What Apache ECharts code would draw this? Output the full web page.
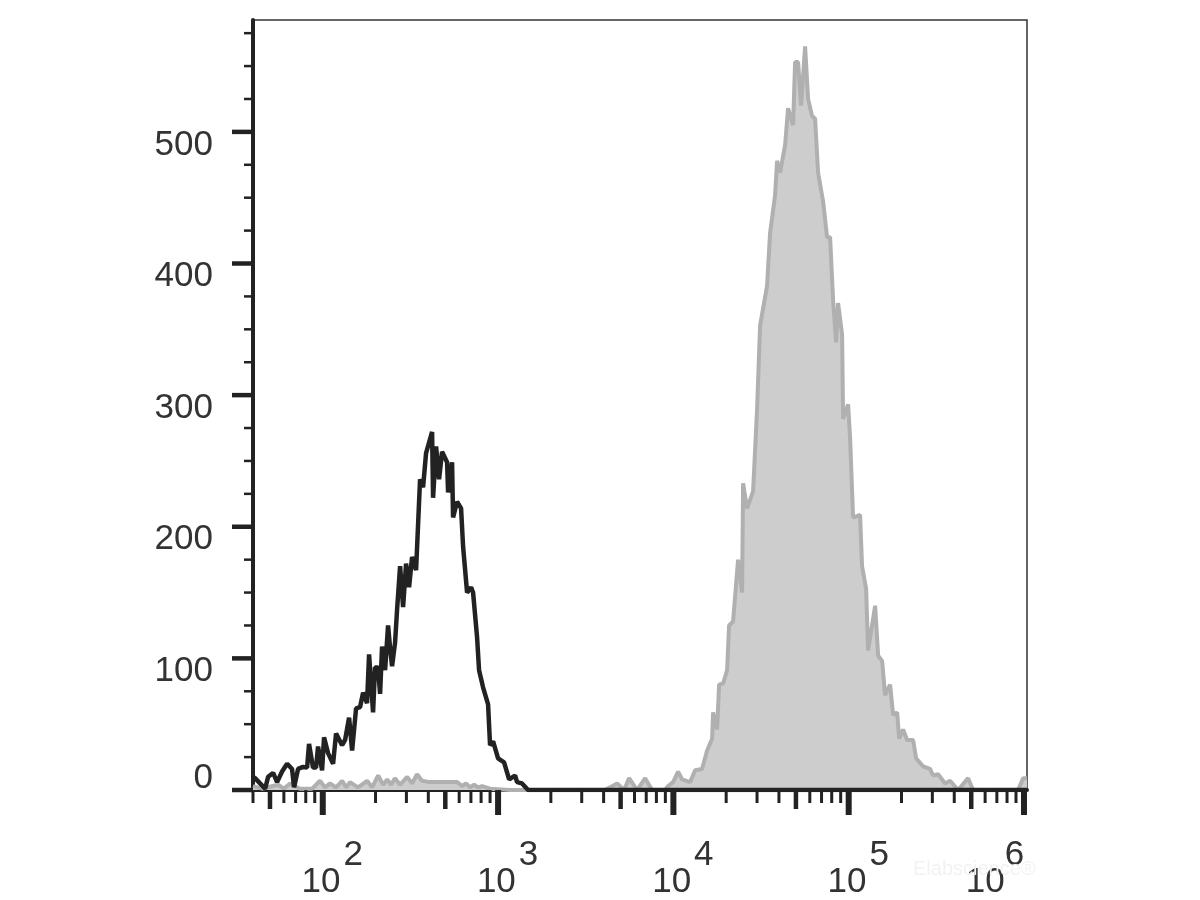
<!DOCTYPE html>
<html><head><meta charset="utf-8">
<script src="https://cdn.jsdelivr.net/npm/echarts@6/dist/echarts.min.js"></script>
<style>html,body{margin:0;padding:0;background:#fff}#c{width:1200px;height:900px}</style>
</head><body><div id="c"></div>
<script>
// axis ranges
const X_MIN = 40, X_MAX = 1040000, Y_MAX = 585;
// y ticks
const yMajorTicks = [0, 100, 200, 300, 400, 500];
const yMinorTicks = [25, 50, 75, 125, 150, 175, 225, 250, 275, 325, 350, 375, 425, 450, 475, 525, 550, 575];
// x ticks (log)
const xDecades = [100, 1000, 10000, 100000, 1000000];
const xExponents = ['2', '3', '4', '5', '6'];
const xMidTicks = [50, 500, 5000, 50000, 500000];
const xMinorTicks = [40, 60, 70, 80, 90, 200, 300, 400, 600, 700, 800, 900,
  2000, 3000, 4000, 6000, 7000, 8000, 9000, 20000, 30000, 40000, 60000, 70000, 80000, 90000,
  200000, 300000, 400000, 600000, 700000, 800000, 900000];

// isotype control histogram (black outline): [fluorescence, count]
const isotypeHistogram = [
  [40,10],[41.1,9],[43.9,5],[46.9,1],[48.8,10],[52.1,13],[54.9,6],[58.6,14],[62.6,20],[66.8,16],
  [68.6,2],[72.3,16],[77.2,17.5],[81.4,17],[83.5,35],[88,17],[91.6,17],[94,33],[99.1,15],[101.7,40],
  [107.2,28],[114.5,20],[119.1,43],[128.9,34],[134.1,38],[141.3,55],[147,30],[154.9,62],[163.3,63],[169.8,74],
  [178.9,66],[183.7,103],[193.6,59],[198.7,93],[206.8,93],[212.3,73],[217.9,109],[226.7,91],[235.8,125],[242,108],
  [248.5,94],[258.5,112],[265.4,137],[276.1,170],[287.2,139],[298.7,172],[310.7,154],[323.2,177],[340.6,167],[358.9,236],
  [373.4,230],[388.4,256],[420.3,272],[425.8,222],[442.9,261],[460.7,236],[479.2,257],[511.8,249],[518.6,226],[546.5,249],
  [553.7,207],[583.6,219],[615.1,214],[631.5,185],[665.6,150],[701.5,154],[720.1,150],[759,116],[779,91],[821,78],
  [877,65],[900,34],[937,37],[1000,24],[1082,21],[1156,8],[1250,11],[1284,6],[1370,5],[1483,0],[1040000,0]
];

// stained sample histogram (grey filled): [fluorescence, count]
const stainedHistogram = [
  [40,3],[45,1],[55.6,4],[60,1],[65,5],[74,1],[87,1],[96.5,7],[103,2],[110,5],[119,2],[129,7],[136,2],[143,6],
  [159,2],[179,7],[191,2],[207,11],[221,4],[233,8],[245,4],[258,9],[276,4],[303,10],[323,5],[345,12],[368,7],
  [409,6],[584,6],[623,3],[657,5],[692,2],[730,4],[769,2],[810,3],[900,1],[1170,0],[4077,0],[4775,5],[5233,0],
  [5590,9],[6209,0],[6900,9],[7558,0],[8968,0],[9330,3],[9960,6],[10640,14],[11210,8],[12460,6],[13300,15],
  [14580,16],[15570,30],[16630,39],[16850,59],[17760,46],[18230,80],[19210,81],[20250,91],[20780,125],[21900,128],
  [23390,175],[24650,150],[24980,233],[26320,214],[28490,227],[30030,290],[31230,353],[34230,383],[35600,423],
  [38030,452],[39040,478],[40610,469],[43370,490],[45110,518],[48170,505],[49450,553],[51440,553],[53510,520],
  [56400,565],[58660,525],[61820,512],[64300,510],[66890,469],[71450,447],[75300,420],[78320,420],[81470,372],
  [84740,340],[86990,370],[91690,346],[92900,282],[99220,293],[101900,267],[105900,207],[116100,209],[119200,170],
  [125700,153],[129000,106],[141500,140],[147200,102],[155100,98],[161300,72],[172300,80],[179200,57],[188900,59],
  [193900,39],[204300,46],[215400,38],[233100,38],[242400,24],[265700,18],[291300,16],[302900,11],[323600,12],
  [354700,5],[378800,7],[420900,0],[479900,9],[512400,0],[925300,0],[988100,9],[1040000,9]
];

const FONT = '"Liberation Sans", Arial, sans-serif';
const INK = '#222';

const xTickData = [].concat(
  xDecades.map(v => [v, 2]),
  xMidTicks.map(v => [v, 1]),
  xMinorTicks.map(v => [v, 0])
);
const yTickData = [].concat(
  yMajorTicks.map(v => [X_MIN, v, 1]),
  yMinorTicks.map(v => [X_MIN, v, 0])
);

function isDecade(v) {
  const l = Math.log10(v);
  return Math.abs(l - Math.round(l)) < 1e-6;
}

const chart = echarts.init(document.getElementById('c'), null, {renderer: 'canvas'});
chart.setOption({
  animation: false,
  backgroundColor: '#fff',
  grid: {left: 253, right: 173, top: 20, bottom: 110, containLabel: false, outerBoundsMode: 'none',
    show: true, borderColor: '#333', borderWidth: 1.5, backgroundColor: 'transparent'},
  xAxis: {
    type: 'log', logBase: 10, min: X_MIN, max: X_MAX,
    axisLine: {show: true, onZero: false, lineStyle: {color: INK, width: 4}},
    axisTick: {show: false}, minorTick: {show: false},
    splitLine: {show: false}, minorSplitLine: {show: false},
    axisLabel: {
      margin: 48, color: '#333', fontFamily: FONT, fontSize: 35,
      showMinLabel: true, showMaxLabel: true,
      formatter: function (v) {
        if (!isDecade(v)) return '';
        const idx = xDecades.findIndex(d => Math.abs(Math.log10(d) - Math.log10(v)) < 1e-6);
        if (idx < 0) return '';
        const e = xExponents[idx];
        if (idx === xDecades.length - 1) return '{b6|10}{e6|' + e + '}';
        return '{b|10}{e|' + e + '}';
      },
      rich: {
        b: {fontFamily: FONT, fontSize: 35, color: '#333', lineHeight: 62, verticalAlign: 'bottom', padding: [0, 0, 0, 19]},
        e: {fontFamily: FONT, fontSize: 35, color: '#333', lineHeight: 62, verticalAlign: 'top', padding: [0, 0, 0, 3]},
        b6: {fontFamily: FONT, fontSize: 35, color: '#333', lineHeight: 62, verticalAlign: 'bottom'},
        e6: {fontFamily: FONT, fontSize: 35, color: '#333', lineHeight: 62, verticalAlign: 'top', padding: [0, 58, 0, 0]}
      }
    }
  },
  yAxis: {
    type: 'value', min: 0, max: Y_MAX, interval: 100,
    axisLine: {show: true, onZero: false, lineStyle: {color: INK, width: 4}},
    axisTick: {show: false}, splitLine: {show: false},
    axisLabel: {
      margin: 40, color: '#333', fontFamily: FONT, fontSize: 35,
      formatter: function (v) {
        if (yMajorTicks.indexOf(v) < 0) return '';
        if (v === 0) return '{z|0}';
        return '{a|' + v + '}';
      },
      rich: {
        a: {fontFamily: FONT, fontSize: 35, color: '#333', padding: [26, 0, 0, 0]},
        z: {fontFamily: FONT, fontSize: 35, color: '#333', padding: [0, 0, 24, 0]}
      }
    }
  },
  graphic: [{
    type: 'text', left: 913, top: 859, z: 1,
    style: {text: 'Elabscience\u00ae', font: '20px ' + FONT, fill: '#f2f2f2'}
  }],
  series: [
    {
      name: 'Stained', type: 'line', data: stainedHistogram, showSymbol: false, symbol: 'none',
      lineStyle: {color: '#b0b0b0', width: 4}, areaStyle: {color: '#cdcdcd', opacity: 1},
      z: 2, silent: true
    },
    {
      name: 'Isotype', type: 'line', data: isotypeHistogram, showSymbol: false, symbol: 'none',
      lineStyle: {color: INK, width: 4.5}, z: 3, silent: true
    },
    {
      name: 'xTicks', type: 'custom', data: xTickData, clip: false, silent: true, z: 5,
      renderItem: function (params, api) {
        const v = api.value(0), cls = api.value(1);
        const p = api.coord([v, 0]);
        const len = [13, 19, 25][cls], w = [3, 4.5, 6][cls];
        return {type: 'line', shape: {x1: p[0], y1: p[1], x2: p[0], y2: p[1] + len},
          style: {stroke: INK, lineWidth: w}};
      }
    },
    {
      name: 'yTicks', type: 'custom', data: yTickData, clip: false, silent: true, z: 5,
      encode: {x: 0, y: 1},
      renderItem: function (params, api) {
        const v = api.value(1), cls = api.value(2);
        const p = api.coord([X_MIN, v]);
        const len = [9, 21][cls], w = [2.5, 4.5][cls];
        return {type: 'line', shape: {x1: p[0], y1: p[1], x2: p[0] - len, y2: p[1]},
          style: {stroke: INK, lineWidth: w}};
      }
    }
  ]
});
</script>
</body></html>
